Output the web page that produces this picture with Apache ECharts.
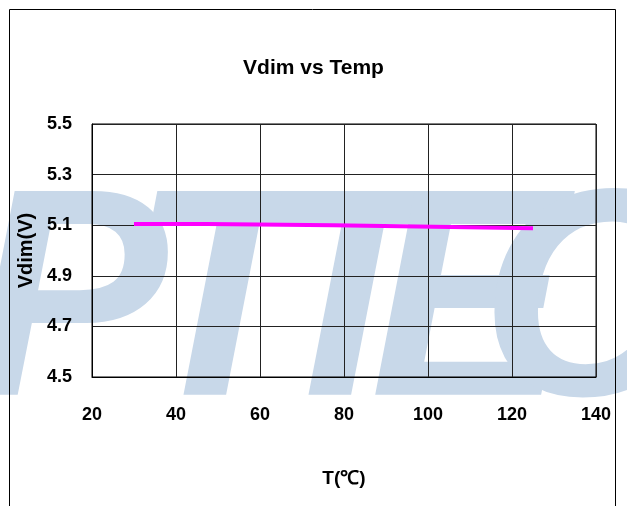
<!DOCTYPE html>
<html>
<head>
<meta charset="utf-8">
<script src="https://cdn.jsdelivr.net/npm/echarts@6/dist/echarts.min.js"></script>
<style>
html,body{margin:0;padding:0;background:#fff;}
#chart{width:627px;height:506px;}
</style>
</head>
<body>
<div id="chart"></div>
<script>
// Data
var temps = [30, 47.5, 77.5, 97.5, 125];
var vdim = [5.105, 5.100, 5.095, 5.088, 5.088];
var xTicks = [20, 40, 60, 80, 100, 120, 140];
var yTicks = [4.5, 4.7, 4.9, 5.1, 5.3, 5.5];
var Y_BASE = yTicks[0];

var chart = echarts.init(document.getElementById('chart'));
var font = '"Liberation Sans", Arial, sans-serif';
var seriesData = temps.map(function (t, i) { return [t, +(vdim[i] - Y_BASE).toFixed(4)]; });

// background watermark (decoration only)
var wmLetters = ['P', 'T', 'T', 'E', 'C'];
var wmLeft = [-30, 130, 255, 370, 480];
var wmGraphics = wmLetters.map(function (ch, i) {
  return { type: 'text', left: wmLeft[i], top: 165, z: -10, silent: true,
    style: { text: ch, fill: '#c8d8e9', font: 'italic bold 296px "Liberation Sans", sans-serif' } };
});

chart.setOption({
  animation: false,
  backgroundColor: '#ffffff',
  graphic: [
    { type: 'rect', left: 7, top: 7, shape: { width: 606, height: 520 }, style: { fill: 'none', stroke: '#000', lineWidth: 1 }, z: 100, silent: true }
  ].concat(wmGraphics),
  title: {
    text: 'Vdim vs Temp',
    left: 'center',
    top: 53,
    textStyle: { fontFamily: font, fontSize: 21, fontWeight: 'bold', color: '#000' }
  },
  grid: { left: 92, right: 31, top: 124, bottom: 129, show: true, borderColor: '#000', borderWidth: 1 },
  xAxis: {
    type: 'value',
    min: xTicks[0], max: xTicks[xTicks.length - 1], interval: 20,
    name: 'T(℃)', nameLocation: 'middle', nameGap: 92,
    nameTextStyle: { fontFamily: font, fontSize: 19, fontWeight: 'bold', color: '#000' },
    axisLine: { show: true, lineStyle: { color: '#000' } },
    axisTick: { show: false },
    axisLabel: { margin: 29, fontFamily: font, fontSize: 18, fontWeight: 'bold', color: '#000' },
    splitLine: { show: true, lineStyle: { color: '#222', width: 1 } }
  },
  yAxis: {
    type: 'value',
    min: 0, max: +(yTicks[yTicks.length - 1] - Y_BASE).toFixed(2), interval: 0.2,
    name: 'Vdim(V)', nameLocation: 'middle', nameGap: 52,
    nameTextStyle: { fontFamily: font, fontSize: 20, fontWeight: 'bold', color: '#000' },
    axisLine: { show: true, lineStyle: { color: '#000' } },
    axisTick: { show: false },
    axisLabel: { margin: 20, fontFamily: font, fontSize: 18, fontWeight: 'bold', color: '#000',
      formatter: function (v) { return (v + Y_BASE).toFixed(1); } },
    splitLine: { show: true, lineStyle: { color: '#222', width: 1 } }
  },
  series: [{
    type: 'line',
    data: seriesData,
    step: 'end',
    showSymbol: false,
    lineStyle: { color: '#ff00ff', width: 4 },
    itemStyle: { color: '#ff00ff' }
  }]
});
</script>
</body>
</html>
